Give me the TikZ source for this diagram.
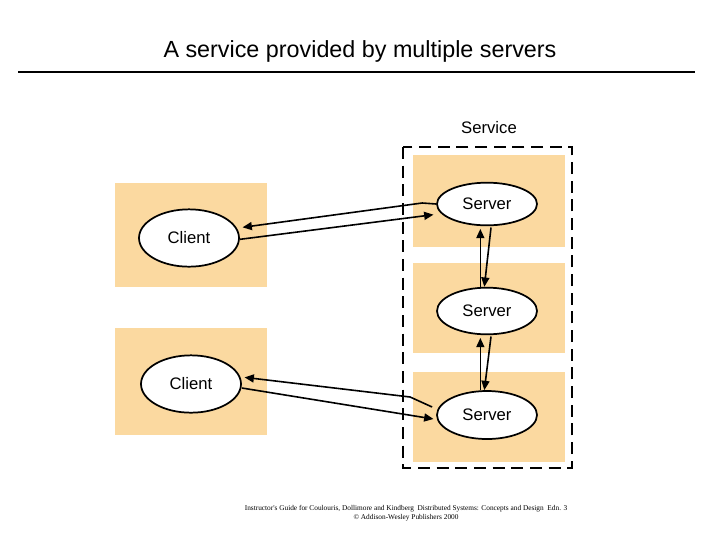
\documentclass[tikz,border=0pt]{standalone}
\usepackage{fontspec}
\setmainfont{Liberation Sans}
\newfontfamily\serifx{Liberation Serif}
\usetikzlibrary{shapes.geometric,arrows.meta}
\definecolor{boxc}{RGB}{251,217,160}
\begin{document}
\begin{tikzpicture}[x=0.75pt,y=-0.75pt,
  box/.style={fill=boxc,draw=none},
  ell/.style={ellipse,draw,line width=1.3pt,fill=white,minimum width=75pt,minimum height=#1,font=\fontsize{12.5}{12}\selectfont,inner sep=0pt},
  arr/.style={line width=1.2pt,-{Triangle[length=7pt,width=6pt]}}]
\useasboundingbox (0,0) rectangle (720,540);
\node[font=\fontsize{17.5}{18}\selectfont] (title) at (360,51) {A service provided by multiple servers};
\draw[line width=2.2pt] (18,72) -- (695,72);
\node[font=\fontsize{12.5}{12}\selectfont] (svc) at (489,128) {Service};
\fill[box] (115,183) rectangle (267,287);
\fill[box] (115,328) rectangle (267,435);
\fill[box] (413,155) rectangle (565,247);
\fill[box] (413,263) rectangle (565,353);
\fill[box] (413,372) rectangle (565,462);
\draw[line width=1.6pt,dash pattern=on 9pt off 5pt] (403,147) rectangle (572,468);
\node[ell=43pt] (c1) at (189,238) {Client};
\node[ell=43pt] (c2) at (191,384) {Client};
\node[ell=32pt] (s1) at (487,204) {Server};
\node[ell=35pt] (s2) at (487,311) {Server};
\node[ell=36pt] (s3) at (487,415) {Server};
\draw[arr] ([yshift=0]s1.west) -- ++(-14,-1) -- ([xshift=2,yshift=8]c1.east);
\draw[arr] ([yshift=-1]c1.east) -- ([xshift=-2,yshift=-8]s1.west);
\draw[arr] ([xshift=-3,yshift=6]s3.west) -- ++(-22,-10) -- ([xshift=2,yshift=5]c2.east);
\draw[arr] ([yshift=-3]c2.east) -- ([xshift=-2,yshift=-3]s3.west);
\draw[arr] ([xshift=-5]s2.north) -- ([xshift=-5,yshift=-2]s1.south);
\draw[arr] ([xshift=3,yshift=-1]s1.south) -- ([xshift=-2]s2.north);
\draw[arr] ([xshift=-5]s3.north) -- ([xshift=-5,yshift=-2]s2.south);
\draw[arr] ([xshift=3,yshift=-1]s2.south) -- ([xshift=-2]s3.north);
\node[font=\serifx\fontsize{5.5}{6.5}\selectfont,align=center] (foot) at (406,513) {Instructor's Guide for Coulouris, Dollimore and Kindberg\ \ Distributed Systems: Concepts and Design\ \ Edn. 3\\ © Addison-Wesley Publishers 2000};
\end{tikzpicture}
\end{document}
